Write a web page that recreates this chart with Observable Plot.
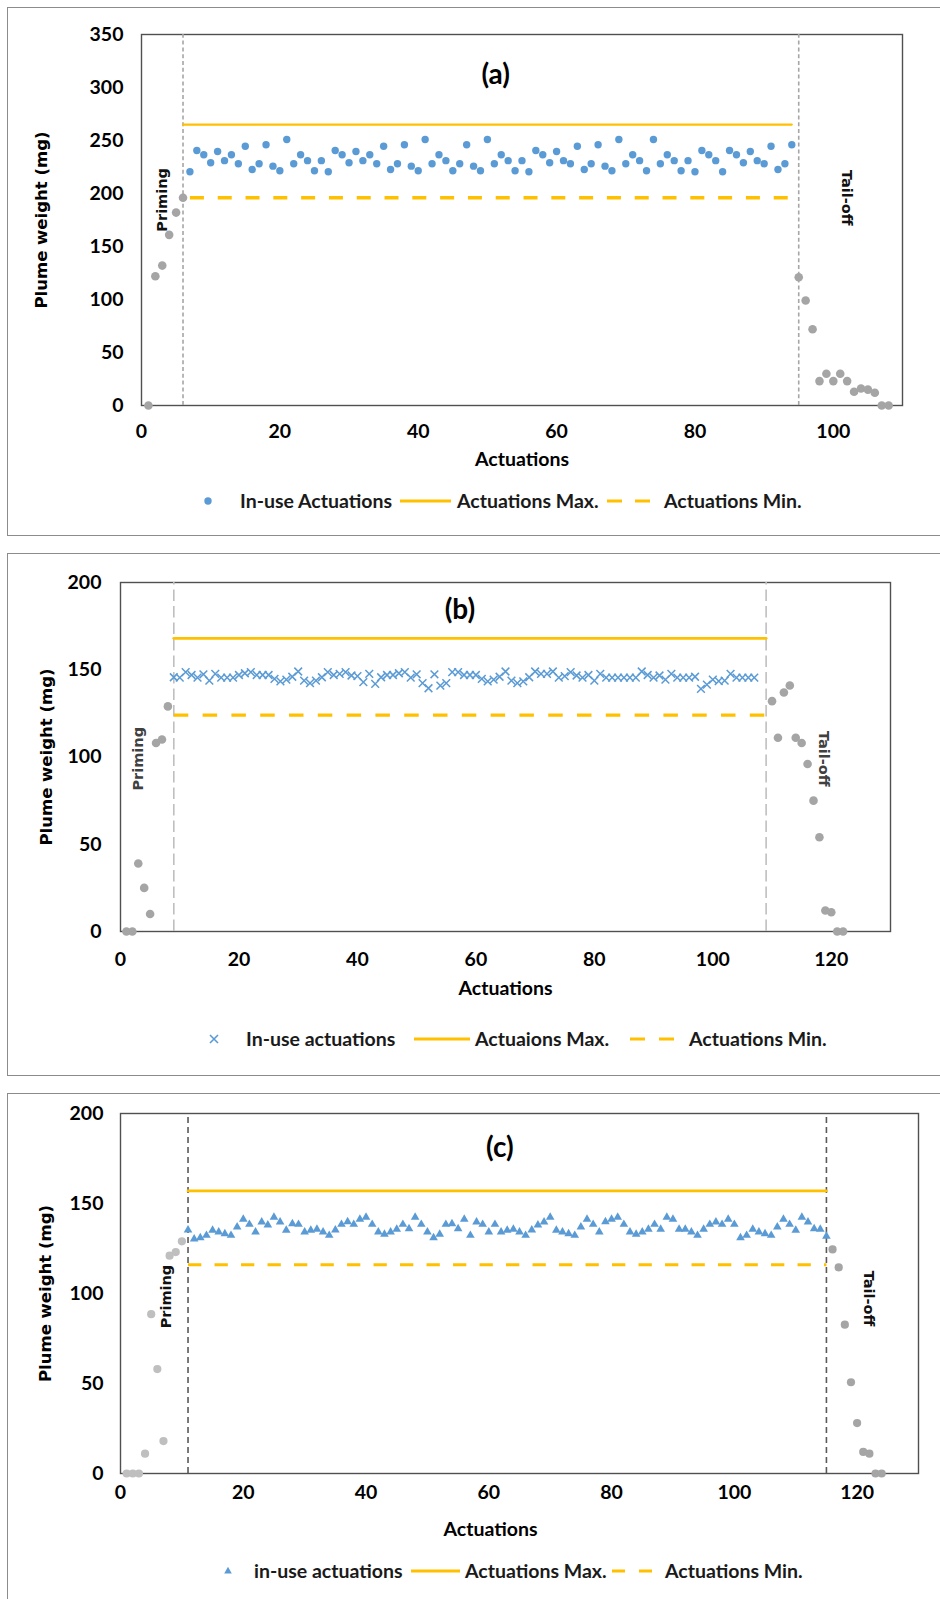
<!DOCTYPE html>
<html>
<head>
<meta charset="utf-8">
<script src="https://cdn.jsdelivr.net/npm/d3@7"></script>
<script src="https://cdn.jsdelivr.net/npm/@observablehq/plot@0.6"></script>
<style>
  body { margin: 0; background: #fff; }
  #page { position: relative; width: 940px; height: 1599px; overflow: hidden; background: #fff; }
  .frame { position: absolute; border: 1.5px solid #8c8c8c; box-sizing: border-box; }
  .chart { position: absolute; left: 0; }
  .legtext { font-family: Lato, "Liberation Sans", sans-serif; font-weight: bold; font-size: 19.5px; color: #1a1a1a; line-height: 1; white-space: nowrap; }
</style>
</head>
<body>
<div id="page"></div>
<script>
// ---------- Panel (a) ----------
const aPrimingX = [1, 2, 3, 4, 5, 6];
const aPrimingY = [0, 122, 132, 161, 182, 196];
const aInUseFirst = 7, aInUseLast = 94;
const aInUseY = [
  220.5, 240.6, 236.5, 229, 239.6, 231, 236.5, 228, 244.6, 222.6,
  228, 246, 225.8, 221.4, 251, 228, 236.5, 231, 221.4, 231,
  220.5, 240.6, 236.5, 229, 239.6, 231, 236.5, 228, 244.6, 222.6,
  228, 246, 225.8, 221.4, 251, 228, 236.5, 231, 221.4, 228,
  246, 225.8, 221.4, 251, 228, 236.5, 231, 221.4, 231, 220.5,
  240.6, 236.5, 229, 239.6, 231, 228, 244.6, 222.6, 228, 246,
  225.8, 221.4, 251, 228, 236.5, 231, 221.4, 251, 228, 236.5,
  231, 221.4, 231, 220.5, 240.6, 236.5, 231, 220.5, 240.6, 236.5,
  229, 239.6, 231, 228, 244.6, 222.6, 228, 246
];
const aTailX = [95, 96, 97, 98, 99, 100, 101, 102, 103, 104, 105, 106, 107, 108];
const aTailY = [121, 99, 72, 23, 30, 23, 30, 23, 13, 16, 15, 12, 0, 0];
const aMaxX = [6, 94], aMaxValue = 265;
const aMinX = [7, 94], aMinValue = 196;
const aBoundaries = [6, 95];

// ---------- Panel (b) ----------
const bPrimingX = [1, 2, 3, 4, 5, 6, 7, 8];
const bPrimingY = [0, 0, 39, 25, 10, 108, 110, 129];
const bInUseFirst = 9, bInUseLast = 107;
const bInUseY = [
  145.7, 145.5, 148.6, 147, 145.5, 147.4, 143.8, 147.6, 145.5, 145.5,
  145.5, 147, 148, 148.6, 147, 147, 147, 144.8, 143.3, 144.3,
  146, 149, 143.8, 142.3, 143.8, 145.7, 148.6, 147, 147.6, 148.6,
  146.7, 146.3, 142.9, 147.6, 141.9, 145.7, 147, 147, 148, 148.6,
  145.5, 147.4, 142.3, 139.4, 147.4, 140.9, 142.3, 148.6, 148.6, 147,
  147, 147, 144.8, 143.3, 144.3, 146, 149, 143.8, 142.3, 143.3,
  145.7, 149, 147.6, 147.6, 149, 145.5, 146.3, 148.6, 146.7, 145.5,
  147, 143.8, 147.6, 145.5, 145.5, 145.5, 145.5, 145.5, 145.5, 149,
  147, 145.5, 146.7, 144.3, 147.6, 145.5, 145.5, 145.5, 146, 139,
  141.5, 144.3, 143.5, 143.8, 147.6, 145.5, 145.5, 145.5, 145.5
];
const bTailX = [110, 111, 112, 113, 114, 115, 116, 117, 118, 119, 120, 121, 122];
const bTailY = [132, 111, 137, 141, 111, 108, 96, 75, 54, 12, 11, 0, 0];
const bMaxX = [9, 109], bMaxValue = 168;
const bMinX = [9, 109], bMinValue = 124;
const bBoundaries = [9, 109];

// ---------- Panel (c) ----------
const cPrimingX = [1, 2, 3, 4, 5, 6, 7, 8, 9, 10];
const cPrimingY = [0, 0, 0, 11, 88.5, 58, 18, 121, 123, 129];
const cInUseFirst = 11, cInUseLast = 115;
const cInUseY = [
  135.3, 130.3, 131, 132.3, 135.1, 134.2, 133.2, 132.3, 137, 141.2,
  138.4, 134.2, 139.7, 138.1, 142.4, 139.7, 135.1, 138.8, 138.4, 134.2,
  135.1, 135.7, 134.2, 132.3, 135.3, 138.4, 139.9, 138.4, 141.2, 142.4,
  138.4, 134.2, 132.9, 134.2, 135.7, 138.4, 136, 142.4, 138.4, 134.2,
  131, 132.9, 138.4, 138.8, 136, 141.2, 132.3, 139.7, 138.4, 134.2,
  138.4, 134.2, 135.1, 135.7, 134.2, 132.3, 135.3, 138.1, 139.7, 142.4,
  135.1, 134.2, 133.2, 132.3, 137, 141.2, 138.4, 134.2, 139.9, 141.2,
  142.4, 138.4, 134.2, 132.9, 134.2, 135.7, 138.4, 135.7, 142.4, 141.2,
  135.7, 135.7, 134.2, 132.3, 135.7, 138.4, 139.7, 138.4, 141.2, 138.4,
  131, 132.3, 135.7, 134.2, 133.2, 132.3, 137, 141.2, 138.4, 135.1,
  142.4, 139.7, 136, 135.7, 131.8
];
const cTailX = [116, 117, 118, 119, 120, 121, 122, 123, 124];
const cTailY = [124.5, 114.5, 82.7, 50.7, 28, 12, 11, 0, 0];
const cMaxX = [11, 115], cMaxValue = 157;
const cMinX = [11, 115], cMinValue = 116;
const cBoundaries = [11, 115];

const xTicksA = [0, 20, 40, 60, 80, 100];
const xTicksBC = [0, 20, 40, 60, 80, 100, 120];
const yTicksA = [0, 50, 100, 150, 200, 250, 300, 350];
const yTicksBC = [0, 50, 100, 150, 200];

// ---------- helpers ----------
const BLUE = "#5B9BD5", GOLD = "#FFC000";
const pts = (X, Y) => X.map((x, i) => ({x, y: Y[i]}));
const seq = (first, Y) => Y.map((y, i) => ({x: first + i, y}));
const flat = (X, v) => X.map(x => ({x, y: v}));
const UIFONT = "Lato, 'Liberation Sans', sans-serif";
const LBLFONT = "'DejaVu Sans', Verdana, sans-serif";
const page = document.getElementById("page");

function frameBox(left, top, width, height) {
  const d = document.createElement("div");
  d.className = "frame";
  Object.assign(d.style, {left: left + "px", top: top + "px", width: width + "px", height: height + "px"});
  page.appendChild(d);
}

function panel(cfg) {
  const chart = Plot.plot({
    width: 940,
    height: cfg.height,
    marginLeft: cfg.ml, marginRight: cfg.mr, marginTop: cfg.mt, marginBottom: cfg.mb,
    style: {fontFamily: UIFONT, fontSize: "19.5px", fontWeight: "bold", color: "#000", background: "transparent", overflow: "visible"},
    x: {domain: cfg.xDomain, label: null},
    y: {domain: cfg.yDomain, label: null},
    marks: [
      Plot.frame({stroke: "#505050", strokeWidth: 1.4}),
      Plot.ruleX(cfg.boundaries, {x: d => d, y1: cfg.yDomain[0], y2: cfg.yDomain[1], stroke: cfg.bColor, strokeWidth: cfg.bWidth, strokeDasharray: cfg.bDash}),
      Plot.line(cfg.max, {x: "x", y: "y", stroke: GOLD, strokeWidth: cfg.maxW}),
      Plot.line(cfg.min, {x: "x", y: "y", stroke: GOLD, strokeWidth: cfg.minW, strokeDasharray: cfg.minDash, strokeLinecap: "butt"}),
      Plot.dot(cfg.priming, {x: "x", y: "y", r: cfg.grayR, fill: cfg.primeColor, stroke: null}),
      Plot.dot(cfg.tail, {x: "x", y: "y", r: cfg.grayR, fill: "#A5A5A5", stroke: null}),
      cfg.inUseMark,
      Plot.text([cfg.title], {x: cfg.titlePos[0], y: cfg.titlePos[1], text: d => d, fontSize: 28, fontWeight: "bold", fontFamily: UIFONT, fill: "#000"}),
      Plot.text(["Priming"], {x: cfg.primePos[0], y: cfg.primePos[1], text: d => d, rotate: -90, textAnchor: "middle", fontSize: 14.5, fontWeight: "bold", fontFamily: LBLFONT, fill: cfg.noteColor}),
      Plot.text(["Tail-off"], {x: cfg.tailPos[0], y: cfg.tailPos[1], text: d => d, rotate: 90, textAnchor: "middle", fontSize: 14.5, fontWeight: "bold", fontFamily: LBLFONT, fill: cfg.noteColor}),
      Plot.text(["Actuations"], {frameAnchor: "bottom", textAnchor: "middle", lineAnchor: "middle", dx: cfg.xLabelDx, dy: cfg.xLabelDy, text: d => d, fontSize: 19.5, fontWeight: "bold", fontFamily: UIFONT, fill: "#000"}),
      Plot.text(["Plume weight (mg)"], {frameAnchor: "left", textAnchor: "middle", lineAnchor: "middle", dx: cfg.yLabelDx, rotate: -90, text: d => d, fontSize: 16.5, fontWeight: "bold", fontFamily: LBLFONT, fill: "#000"}),
      Plot.axisX({ticks: cfg.xTicks, tickSize: 0, tickPadding: cfg.xPad, tickFormat: d => d, label: null, fontSize: 19.5, fontWeight: "bold", fontFamily: UIFONT, fill: "#000"}),
      Plot.axisY({ticks: cfg.yTicks, tickSize: 0, tickPadding: cfg.yPad, tickFormat: d => d, label: null, fontSize: 19.5, fontWeight: "bold", fontFamily: UIFONT, fill: "#000"})
    ]
  });
  chart.classList.add("chart");
  chart.style.top = cfg.top + "px";
  page.appendChild(chart);
}

function legend(top, items) {
  for (const it of items) {
    const el = document.createElement("div");
    el.style.position = "absolute";
    el.style.top = top + "px";
    el.style.transform = "translateY(-50%)";
    el.style.left = it.left + "px";
    if (it.text) {
      el.className = "legtext";
      el.textContent = it.text;
    } else {
      const w = it.width || 12, h = 12;
      let inner = "";
      if (it.kind === "dot") inner = `<circle cx="6" cy="6" r="3.7" fill="${BLUE}"/>`;
      if (it.kind === "x") inner = `<path d="M2,2L10,10M2,10L10,2" stroke="${BLUE}" stroke-width="1.6" fill="none"/>`;
      if (it.kind === "tri") inner = `<path d="M6,1.8L9.8,8.6L2.2,8.6Z" fill="${BLUE}"/>`;
      if (it.kind === "line") inner = `<line x1="0" y1="6" x2="${w}" y2="6" stroke="${GOLD}" stroke-width="3"/>`;
      if (it.kind === "dash") inner = `<line x1="0" y1="6" x2="${w}" y2="6" stroke="${GOLD}" stroke-width="3.2" stroke-dasharray="${it.dash}"/>`;
      el.innerHTML = `<svg width="${w}" height="${h}" style="display:block">${inner}</svg>`;
    }
    page.appendChild(el);
  }
}

// ---------- frames ----------
frameBox(7, 7, 940, 529);
frameBox(7, 553, 940, 523);
frameBox(7, 1093, 940, 520);

// ---------- (a) ----------
panel({
  top: 0, height: 480, ml: 141, mr: 38, mt: 34, mb: 75,
  xDomain: [0, 110], yDomain: [0, 350], xTicks: xTicksA, yTicks: yTicksA,
  xPad: 19, yPad: 18, xLabelDx: 0, xLabelDy: 54, yLabelDx: -100,
  boundaries: aBoundaries, bColor: "#a6a6a6", bWidth: 1.6, bDash: "4,2.8",
  max: pts(aMaxX, aMaxX.map(() => aMaxValue)), maxW: 2.2,
  min: flat(aMinX, aMinValue), minW: 3.3, minDash: "14,13.8",
  priming: pts(aPrimingX, aPrimingY), tail: pts(aTailX, aTailY), grayR: 4.3, primeColor: "#A5A5A5",
  inUseMark: Plot.dot(seq(aInUseFirst, aInUseY), {x: "x", y: "y", r: 3.7, fill: BLUE, stroke: null}),
  title: "(a)", titlePos: [51.2, 312],
  primePos: [3.0, 194], tailPos: [101.9, 196], noteColor: "#111"
});
legend(500.5, [
  {kind: "dot", left: 202},
  {text: "In-use Actuations", left: 240},
  {kind: "line", left: 400, width: 51},
  {text: "Actuations Max.", left: 457},
  {kind: "dash", left: 607, width: 43, dash: "15,13"},
  {text: "Actuations Min.", left: 664}
]);

// ---------- (b) ----------
panel({
  top: 553, height: 470, ml: 120, mr: 50, mt: 29, mb: 92,
  xDomain: [0, 130], yDomain: [0, 200], xTicks: xTicksBC, yTicks: yTicksBC,
  xPad: 21, yPad: 19, xLabelDx: 0, xLabelDy: 57, yLabelDx: -74,
  boundaries: bBoundaries, bColor: "#bfbfbf", bWidth: 1.6, bDash: "11.5,5",
  max: flat(bMaxX, bMaxValue), maxW: 2.8,
  min: flat(bMinX, bMinValue), minW: 3.3, minDash: "14.5,14.3",
  priming: pts(bPrimingX, bPrimingY), tail: pts(bTailX, bTailY), grayR: 4.3, primeColor: "#A5A5A5",
  inUseMark: Plot.dot(seq(bInUseFirst, bInUseY), {x: "x", y: "y", r: 3.6, symbol: "times", stroke: BLUE, strokeWidth: 1.5}),
  title: "(b)", titlePos: [57.3, 184.5],
  primePos: [3.0, 99], tailPos: [118.7, 99], noteColor: "#404040"
});
legend(1039, [
  {kind: "x", left: 208},
  {text: "In-use actuations", left: 246},
  {kind: "line", left: 414, width: 56},
  {text: "Actuaions Max.", left: 475},
  {kind: "dash", left: 630, width: 44, dash: "15,14"},
  {text: "Actuations Min.", left: 689}
]);

// ---------- (c) ----------
panel({
  top: 1094, height: 460, ml: 120, mr: 22, mt: 19, mb: 81,
  xDomain: [0, 130], yDomain: [0, 200], xTicks: xTicksBC, yTicks: yTicksBC,
  xPad: 12, yPad: 17, xLabelDx: -29, xLabelDy: 56, yLabelDx: -75,
  boundaries: cBoundaries, bColor: "#595959", bWidth: 1.6, bDash: "6,4",
  max: flat(cMaxX, cMaxValue), maxW: 2.8,
  min: flat(cMinX, cMinValue), minW: 3.1, minDash: "13.3,13.2",
  priming: pts(cPrimingX, cPrimingY), tail: pts(cTailX, cTailY), grayR: 4.1, primeColor: "#BFBFBF",
  inUseMark: Plot.dot(seq(cInUseFirst, cInUseY), {x: "x", y: "y", r: 3.2, symbol: "triangle", fill: BLUE, stroke: null}),
  title: "(c)", titlePos: [61.8, 180.7],
  primePos: [7.5, 98.3], tailPos: [121.9, 97.2], noteColor: "#111"
});
legend(1571, [
  {kind: "tri", left: 222},
  {text: "in-use actuations", left: 254},
  {kind: "line", left: 411, width: 49},
  {text: "Actuations Max.", left: 465},
  {kind: "dash", left: 612, width: 40, dash: "13,14"},
  {text: "Actuations Min.", left: 665}
]);
</script>
</body>
</html>
